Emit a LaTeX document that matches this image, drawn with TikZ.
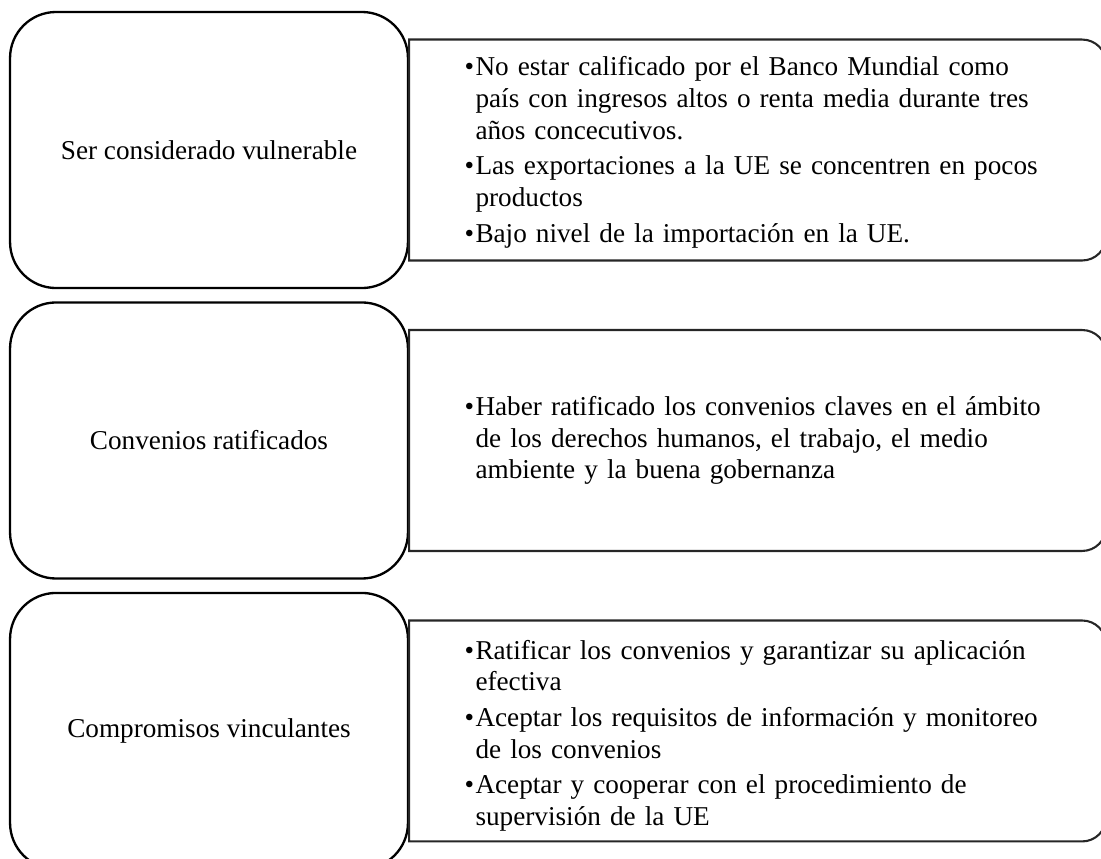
\documentclass[tikz,border=0pt]{standalone}
\usepackage{fontspec}
\setmainfont{Liberation Serif}
\usepackage{tikz}
\usetikzlibrary{positioning}

\newcommand{\bul}[1]{\hangindent=4.7pt\hangafter=1\noindent\makebox[4.7pt][l]{\textbullet}#1\par}
\newcommand{\gap}{\vspace{1.8pt}}

\begin{document}
\begin{tikzpicture}[x=0.43pt, y=-0.43pt, node distance = 5.2pt,
		leftbox/.style = {rectangle, draw, line width=1pt, rounded corners=19.8pt,
				minimum width=171.1pt, minimum height=118.7pt, inner sep=0pt,
				font=\fontsize{11.7}{13.6}\selectfont},
		rightbox/.style = {rectangle, minimum width=299.3pt, minimum height=94.6pt,
				inner sep=0pt},
		items/.style = {anchor=west, text width=272pt, inner sep=0pt,
				font=\fontsize{11.7}{13.6}\selectfont\raggedright},
		outline/.style = {draw=black!85, line width=0.9pt}
	]
	\useasboundingbox (0,0) rectangle (1101,858);

	% Nodes
	\node [leftbox] (vul) at (209,150) {Ser considerado vulnerable};
	\node [leftbox, below=of vul] (conv) {Convenios ratificados};
	\node [leftbox, below=of conv] (comp) {Compromisos vinculantes};

	\node [rightbox, right=0pt of vul] (vulbox) {};
	\node [rightbox, right=0pt of conv] (convbox) {};
	\node [rightbox, right=0pt of comp] (compbox) {};

	% Texts
	\node [items] (vultxt) at ([xshift=23.65pt, yshift=-1pt]vulbox.west)
	{\bul{No estar calificado por el Banco Mundial como\newline pa\'{\i}s con ingresos altos o renta media durante tres\newline años concecutivos.}\gap
		\bul{Las exportaciones a la UE se concentren en pocos\newline productos}\gap
		\bul{Bajo nivel de la importación en la UE.}};
	\node [items] (convtxt) at ([xshift=23.65pt]convbox.west)
	{\bul{Haber ratificado los convenios claves en el ámbito\newline de los derechos humanos, el trabajo, el medio\newline ambiente y la buena gobernanza}};
	\node [items] (comptxt) at ([xshift=23.65pt, yshift=-2pt]compbox.west)
	{\bul{Ratificar los convenios y garantizar su aplicación\newline efectiva}\gap
		\bul{Aceptar los requisitos de información y monitoreo\newline de los convenios}\gap
		\bul{Aceptar y cooperar con el procedimiento de\newline supervisión de la UE}};

	% Boxes, rounded on the right side only
	\foreach \b in {vulbox, convbox, compbox}
	\draw [outline] (\b.north west) -- ([xshift=-10.3pt]\b.north east)
	arc[start angle=90, end angle=0, radius=10.3pt] -- ([yshift=10.3pt]\b.south east)
	arc[start angle=0, end angle=-90, radius=10.3pt] -- (\b.south west) -- cycle;
\end{tikzpicture}
\end{document}
